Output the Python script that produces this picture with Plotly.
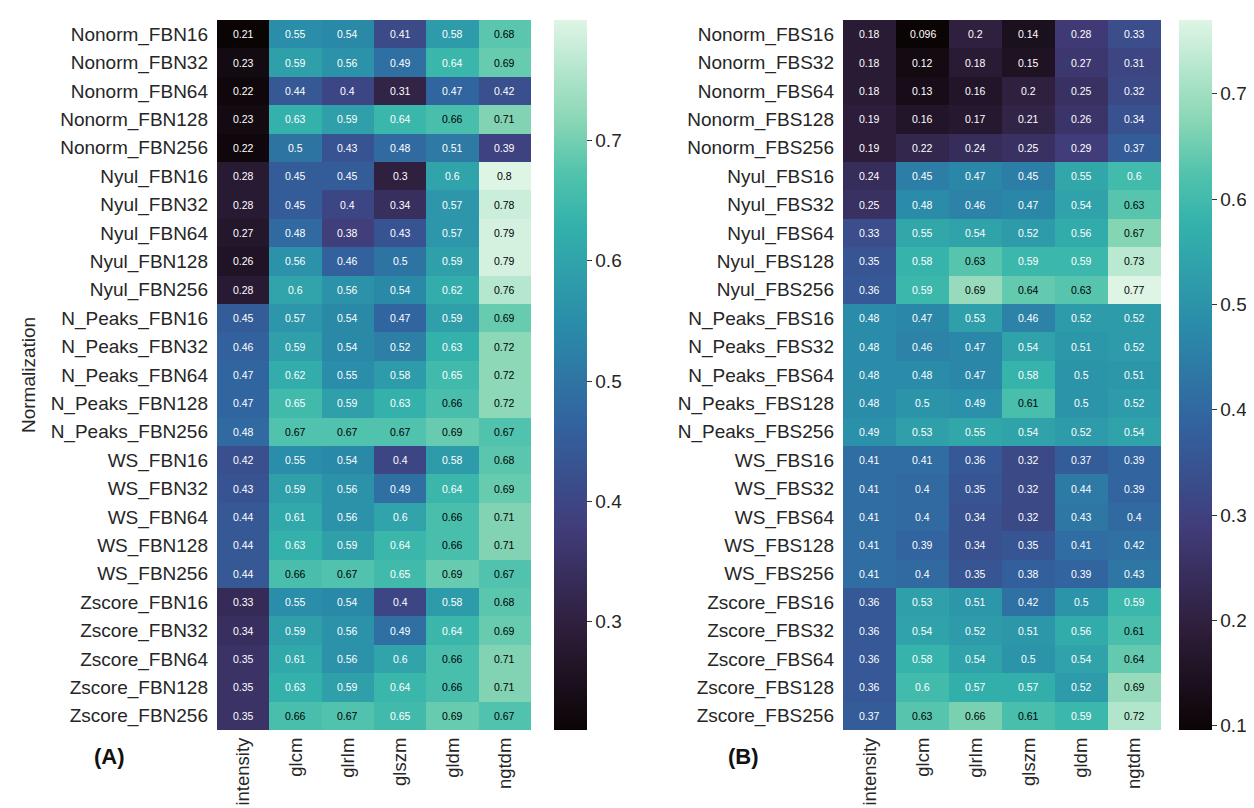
import plotly.graph_objects as go

features = ["intensity", "glcm", "glrlm", "glszm", "gldm", "ngtdm"]

rows_a = ["Nonorm_FBN16", "Nonorm_FBN32", "Nonorm_FBN64", "Nonorm_FBN128", "Nonorm_FBN256",
          "Nyul_FBN16", "Nyul_FBN32", "Nyul_FBN64", "Nyul_FBN128", "Nyul_FBN256",
          "N_Peaks_FBN16", "N_Peaks_FBN32", "N_Peaks_FBN64", "N_Peaks_FBN128", "N_Peaks_FBN256",
          "WS_FBN16", "WS_FBN32", "WS_FBN64", "WS_FBN128", "WS_FBN256",
          "Zscore_FBN16", "Zscore_FBN32", "Zscore_FBN64", "Zscore_FBN128", "Zscore_FBN256"]

values_a = [
    [0.21, 0.55, 0.54, 0.41, 0.58, 0.68],
    [0.23, 0.59, 0.56, 0.49, 0.64, 0.69],
    [0.22, 0.44, 0.40, 0.31, 0.47, 0.42],
    [0.23, 0.63, 0.59, 0.64, 0.66, 0.71],
    [0.22, 0.50, 0.43, 0.48, 0.51, 0.39],
    [0.28, 0.45, 0.45, 0.30, 0.60, 0.80],
    [0.28, 0.45, 0.40, 0.34, 0.57, 0.78],
    [0.27, 0.48, 0.38, 0.43, 0.57, 0.79],
    [0.26, 0.56, 0.46, 0.50, 0.59, 0.79],
    [0.28, 0.60, 0.56, 0.54, 0.62, 0.76],
    [0.45, 0.57, 0.54, 0.47, 0.59, 0.69],
    [0.46, 0.59, 0.54, 0.52, 0.63, 0.72],
    [0.47, 0.62, 0.55, 0.58, 0.65, 0.72],
    [0.47, 0.65, 0.59, 0.63, 0.66, 0.72],
    [0.48, 0.67, 0.67, 0.67, 0.69, 0.67],
    [0.42, 0.55, 0.54, 0.40, 0.58, 0.68],
    [0.43, 0.59, 0.56, 0.49, 0.64, 0.69],
    [0.44, 0.61, 0.56, 0.60, 0.66, 0.71],
    [0.44, 0.63, 0.59, 0.64, 0.66, 0.71],
    [0.44, 0.66, 0.67, 0.65, 0.69, 0.67],
    [0.33, 0.55, 0.54, 0.40, 0.58, 0.68],
    [0.34, 0.59, 0.56, 0.49, 0.64, 0.69],
    [0.35, 0.61, 0.56, 0.60, 0.66, 0.71],
    [0.35, 0.63, 0.59, 0.64, 0.66, 0.71],
    [0.35, 0.66, 0.67, 0.65, 0.69, 0.67],
]

rows_b = ["Nonorm_FBS16", "Nonorm_FBS32", "Nonorm_FBS64", "Nonorm_FBS128", "Nonorm_FBS256",
          "Nyul_FBS16", "Nyul_FBS32", "Nyul_FBS64", "Nyul_FBS128", "Nyul_FBS256",
          "N_Peaks_FBS16", "N_Peaks_FBS32", "N_Peaks_FBS64", "N_Peaks_FBS128", "N_Peaks_FBS256",
          "WS_FBS16", "WS_FBS32", "WS_FBS64", "WS_FBS128", "WS_FBS256",
          "Zscore_FBS16", "Zscore_FBS32", "Zscore_FBS64", "Zscore_FBS128", "Zscore_FBS256"]

values_b = [
    [0.18, 0.096, 0.20, 0.14, 0.28, 0.33],
    [0.18, 0.12, 0.18, 0.15, 0.27, 0.31],
    [0.18, 0.13, 0.16, 0.20, 0.25, 0.32],
    [0.19, 0.16, 0.17, 0.21, 0.26, 0.34],
    [0.19, 0.22, 0.24, 0.25, 0.29, 0.37],
    [0.24, 0.45, 0.47, 0.45, 0.55, 0.60],
    [0.25, 0.48, 0.46, 0.47, 0.54, 0.63],
    [0.33, 0.55, 0.54, 0.52, 0.56, 0.67],
    [0.35, 0.58, 0.63, 0.59, 0.59, 0.73],
    [0.36, 0.59, 0.69, 0.64, 0.63, 0.77],
    [0.48, 0.47, 0.53, 0.46, 0.52, 0.52],
    [0.48, 0.46, 0.47, 0.54, 0.51, 0.52],
    [0.48, 0.48, 0.47, 0.58, 0.50, 0.51],
    [0.48, 0.50, 0.49, 0.61, 0.50, 0.52],
    [0.49, 0.53, 0.55, 0.54, 0.52, 0.54],
    [0.41, 0.41, 0.36, 0.32, 0.37, 0.39],
    [0.41, 0.40, 0.35, 0.32, 0.44, 0.39],
    [0.41, 0.40, 0.34, 0.32, 0.43, 0.40],
    [0.41, 0.39, 0.34, 0.35, 0.41, 0.42],
    [0.41, 0.40, 0.35, 0.38, 0.39, 0.43],
    [0.36, 0.53, 0.51, 0.42, 0.50, 0.59],
    [0.36, 0.54, 0.52, 0.51, 0.56, 0.61],
    [0.36, 0.58, 0.54, 0.50, 0.54, 0.64],
    [0.36, 0.60, 0.57, 0.57, 0.52, 0.69],
    [0.37, 0.63, 0.66, 0.61, 0.59, 0.72],
]

ticks_a = [0.3, 0.4, 0.5, 0.6, 0.7]
ticks_b = [0.1, 0.2, 0.3, 0.4, 0.5, 0.6, 0.7]

# seaborn "mako"-like colour map
mako_stops = [
    (0.0, "#0b0405"),
    (0.143, "#2e1e3b"),
    (0.286, "#413d7b"),
    (0.429, "#32629f"),
    (0.571, "#2a8ca9"),
    (0.714, "#34b2ab"),
    (0.785, "#52c3ad"),
    (0.857, "#88d6b4"),
    (1.0, "#def5e5"),
]
mako = [[p, c] for p, c in mako_stops]


def hex2rgb(h):
    h = h.lstrip("#")
    return [int(h[i:i + 2], 16) / 255 for i in (0, 2, 4)]


def cmap(t):
    t = min(max(t, 0), 1)
    for (p0, c0), (p1, c1) in zip(mako_stops[:-1], mako_stops[1:]):
        if p0 <= t <= p1:
            f = (t - p0) / (p1 - p0) if p1 > p0 else 0
            a, b = hex2rgb(c0), hex2rgb(c1)
            return [a[i] + f * (b[i] - a[i]) for i in range(3)]
    return hex2rgb(mako_stops[-1][1])


def lum(rgb):
    lin = [c / 12.92 if c <= 0.03928 else ((c + 0.055) / 1.055) ** 2.4 for c in rgb]
    return 0.2126 * lin[0] + 0.7152 * lin[1] + 0.0722 * lin[2]


FONT = "Liberation Sans, Arial, sans-serif"
W, H = 1254, 808
y_top = 1 - 12 / H
y_bot = 1 - 722 / H

fig = go.Figure()
annotations = []

panels = [
    (rows_a, values_a, ticks_a, "x", "y", (209 / W, 523 / W), 546 / W),
    (rows_b, values_b, ticks_b, "x2", "y2", (835 / W, 1153 / W), 1171 / W),
]

for rows, vals, ticks, xa, ya, dom, cbx in panels:
    flat = [v for r in vals for v in r]
    vmin, vmax = min(flat), max(flat)
    fig.add_trace(go.Heatmap(
        z=vals, x=features, y=rows, xaxis=xa, yaxis=ya,
        colorscale=mako, zmin=vmin, zmax=vmax, xgap=0, ygap=0,
        hoverinfo="skip",
        colorbar=dict(
            x=cbx, xanchor="left", xpad=0, ypad=0,
            y=(y_top + y_bot) / 2, yanchor="middle",
            len=y_top - y_bot, lenmode="fraction", thickness=33,
            outlinewidth=0, ticks="outside", ticklen=5, tickwidth=1,
            tickcolor="#333333", tickvals=ticks,
            ticktext=[f"{t:g}" for t in ticks],
            tickfont=dict(family=FONT, size=19, color="#262626"),
        ),
    ))
    for i, r in enumerate(rows):
        for j, f in enumerate(features):
            v = vals[i][j]
            rgb = cmap((v - vmin) / (vmax - vmin))
            col = "#000000" if lum(rgb) > 0.408 else "#ffffff"
            annotations.append(dict(
                x=f, y=r, xref=xa, yref=ya, text=f"{v:.2g}", showarrow=False,
                font=dict(family=FONT, size=10.5, color=col),
            ))

axis_x = dict(tickangle=-90, tickfont=dict(family=FONT, size=18.5, color="#262626"),
              showgrid=False, zeroline=False, showline=False, ticks="",
              automargin=False, ticklabelstandoff=3, fixedrange=True)
axis_y = dict(tickfont=dict(family=FONT, size=19, color="#262626"),
              showgrid=False, zeroline=False, showline=False, ticks="",
              autorange="reversed", automargin=False, ticklabelstandoff=8,
              domain=[y_bot, y_top], fixedrange=True)

fig.update_layout(
    width=W, height=H,
    margin=dict(l=0, r=0, t=0, b=0),
    paper_bgcolor="white", plot_bgcolor="white",
    showlegend=False,
    xaxis=dict(domain=list(panels[0][5]), anchor="y", **axis_x),
    yaxis=dict(anchor="x", **axis_y),
    xaxis2=dict(domain=list(panels[1][5]), anchor="y2", **axis_x),
    yaxis2=dict(anchor="x2", **axis_y),
)

annotations.append(dict(x=20 / W, y=(y_top + y_bot) / 2, xref="paper", yref="paper",
                        xanchor="center", yanchor="middle",
                        text="Normalization", textangle=-90, showarrow=False,
                        font=dict(family=FONT, size=19, color="#262626")))
annotations.append(dict(x=102 / W, y=1 - 748 / H, xref="paper", yref="paper",
                        xanchor="center", yanchor="middle",
                        text="<b>(A)</b>", showarrow=False,
                        font=dict(family=FONT, size=22, color="#111111")))
annotations.append(dict(x=735 / W, y=1 - 748 / H, xref="paper", yref="paper",
                        xanchor="center", yanchor="middle",
                        text="<b>(B)</b>", showarrow=False,
                        font=dict(family=FONT, size=22, color="#111111")))

fig.update_layout(annotations=annotations)
fig.write_html("out.html")
